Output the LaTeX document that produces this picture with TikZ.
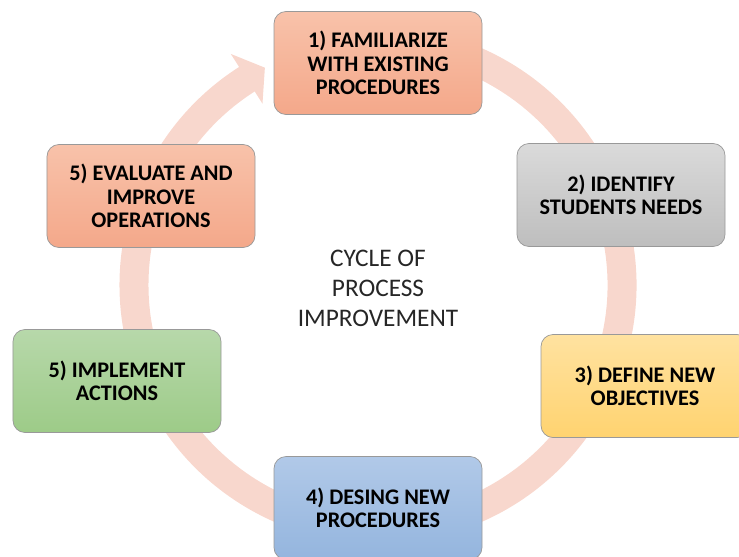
\documentclass[tikz,border=0pt]{standalone}
\usepackage{fontspec}
\setmainfont{Carlito}
\usetikzlibrary{calc}

\definecolor{ringpink}{RGB}{248,215,205}
\definecolor{orangetop}{RGB}{248,194,170}
\definecolor{orangebot}{RGB}{244,168,138}
\definecolor{graytop}{RGB}{218,218,218}
\definecolor{graybot}{RGB}{190,190,190}
\definecolor{yellowtop}{RGB}{255,226,160}
\definecolor{yellowbot}{RGB}{255,211,112}
\definecolor{bluetop}{RGB}{177,201,232}
\definecolor{bluebot}{RGB}{148,181,222}
\definecolor{greentop}{RGB}{183,216,170}
\definecolor{greenbot}{RGB}{157,203,136}

\begin{document}
\begin{tikzpicture}[x=0.03cm, y=-0.03cm,
    stepbox/.style={draw=black!40, line width=0.6pt, rounded corners=0.36cm,
        minimum width=6.24cm, minimum height=3.09cm, align=center,
        text=black, font=\bfseries\fontsize{19}{20}\selectfont},
    orangebox/.style={stepbox, top color=orangetop, bottom color=orangebot},
    graybox/.style={stepbox, top color=graytop, bottom color=graybot},
    yellowbox/.style={stepbox, top color=yellowtop, bottom color=yellowbot},
    bluebox/.style={stepbox, top color=bluetop, bottom color=bluebot},
    greenbox/.style={stepbox, top color=greentop, bottom color=greenbot}]

    % FRAME
    \useasboundingbox (0,0) rectangle (739,556);

    % RING WITH ARROW
    \coordinate (C) at (378,285);
    \draw[ringpink, line width=0.87cm] ($(C)+(100:7.32cm)$) arc[start angle=100, end angle=-238, radius=7.32cm];
    \fill[ringpink] ($(C)+(122.5:8.22cm)$) -- ($(C)+(117.5:7.35cm)$) -- ($(C)+(122.5:6.45cm)$) -- cycle;

    % STEPS
    \node[orangebox] (fam) at (378,63) {1) FAMILIARIZE\\WITH EXISTING\\PROCEDURES};
    \node[graybox] (ident) at (621,195) {2) IDENTIFY\\STUDENTS NEEDS};
    \node[yellowbox] (define) at (645,386) {3) DEFINE NEW\\OBJECTIVES};
    \node[bluebox] (desing) at (378,508) {4) DESING NEW\\PROCEDURES};
    \node[greenbox] (implement) at (117,381) {5) IMPLEMENT\\ACTIONS};
    \node[orangebox] (evaluate) at (151,196) {5) EVALUATE AND\\IMPROVE\\OPERATIONS};

    % CENTRE TITLE
    \node[align=center, text=black!85, font=\fontsize{21.6}{25.5}\selectfont] (title) at (378,288) {CYCLE OF\\PROCESS\\IMPROVEMENT};

\end{tikzpicture}
\end{document}
